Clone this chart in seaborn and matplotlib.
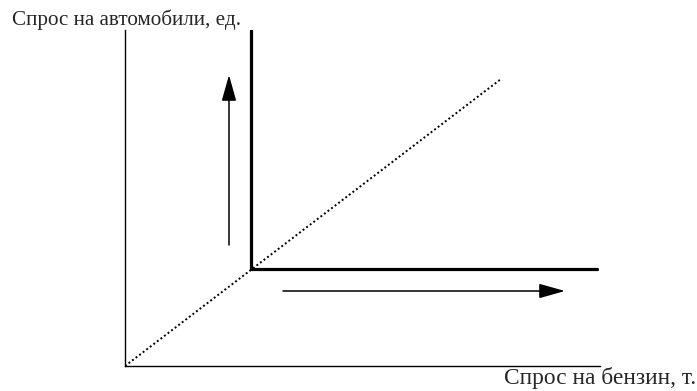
import matplotlib.pyplot as plt
import seaborn as sns
import pandas as pd

# Values in chart units (origin at the axes corner)
x_max = 475
y_max = 336

# L-shaped demand line (perfect complements)
l_x = [126, 126, 472]
l_y = [336, 97, 97]

# Dotted ray from the origin through the corner
ray_x = [0, 376]
ray_y = [0, 287]

# Arrows: (tail, tip)
arrow_up = ((104, 121), (104, 291))
arrow_right = ((158, 75), (440, 75))

x_label = "Спрос на бензин, т."
y_label = "Спрос на автомобили, ед."

sns.set_style("white")
plt.rcParams["font.family"] = ["Liberation Serif", "DejaVu Serif"]

fig = plt.figure(figsize=(6.97, 3.91), dpi=100)
ax = fig.add_axes([125 / 697, 25 / 391, 475 / 697, 336 / 391])

l_df = pd.DataFrame({"x": l_x, "y": l_y})
ray_df = pd.DataFrame({"x": ray_x, "y": ray_y})

ax.plot(l_df["x"], l_df["y"], color="black", lw=2.3, solid_joinstyle="miter")
sns.lineplot(data=ray_df, x="x", y="y", ax=ax, color="black", lw=1.4,
             linestyle=(0, (1, 1.3)))

for (tail, tip) in [arrow_up, arrow_right]:
    ax.annotate("", xy=tip, xytext=tail,
                arrowprops=dict(arrowstyle="-|>,head_length=1.6,head_width=0.45",
                                color="black", lw=1.1, shrinkA=0, shrinkB=0,
                                mutation_scale=10))

ax.set_xlim(0, x_max)
ax.set_ylim(0, y_max)
ax.set_xticks([])
ax.set_yticks([])
ax.set_xlabel("")
ax.set_ylabel("")
for side in ["top", "right"]:
    ax.spines[side].set_visible(False)
for side in ["left", "bottom"]:
    ax.spines[side].set_color("black")
    ax.spines[side].set_linewidth(1.0)

fig.text(12 / 697, 1 - 25 / 391, y_label, fontsize=15.2, ha="left", va="baseline")
fig.text(696 / 697, 1 - 384 / 391, x_label, fontsize=16.8, ha="right", va="baseline")

fig.savefig("out.png", dpi=100, facecolor="white")
